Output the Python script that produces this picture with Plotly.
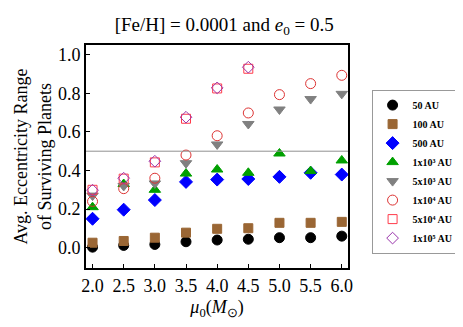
import plotly.graph_objects as go

mu0 = [2.0, 2.5, 3.0, 3.5, 4.0, 4.5, 5.0, 5.5, 6.0]
mu0_short = [2.0, 2.5, 3.0, 3.5, 4.0, 4.5]

au50 = [0.003, 0.012, 0.017, 0.031, 0.040, 0.044, 0.052, 0.052, 0.060]
au100 = [0.026, 0.035, 0.052, 0.078, 0.098, 0.101, 0.129, 0.129, 0.134]
au500 = [0.150, 0.197, 0.247, 0.341, 0.353, 0.356, 0.367, 0.388, 0.379]
au1e3 = [0.210, 0.330, 0.300, 0.384, 0.405, 0.388, 0.488, 0.397, 0.452]
au5e3 = [0.270, 0.320, 0.333, 0.438, 0.535, 0.641, 0.716, 0.770, 0.797]
au1e4 = [0.240, 0.306, 0.360, 0.480, 0.580, 0.698, 0.793, 0.850, 0.893]
au5e4 = [0.300, 0.358, 0.442, 0.668, 0.825, 0.927]
au1e5 = [0.298, 0.360, 0.448, 0.676, 0.828, 0.935]

ref_line = 0.5

series = [
    ("50 AU", mu0, au50, "circle", "black", 10),
    ("100 AU", mu0, au100, "square", "#9A6634", 9),
    ("500 AU", mu0, au500, "diamond", "#0000FF", 10),
    ("1x10³ AU", mu0, au1e3, "triangle-up", "#00A000", 10),
    ("5x10³ AU", mu0, au5e3, "triangle-down", "#808080", 10),
    ("1x10⁴ AU", mu0, au1e4, "circle-open", "#DD3333", 10),
    ("5x10⁴ AU", mu0_short, au5e4, "square-open", "#FF3B4B", 9),
    ("1x10⁵ AU", mu0_short, au1e5, "diamond-open", "#9933AA", 9),
]

fig = go.Figure()
for name, xs, ys, sym, col, sz in series:
    fig.add_trace(go.Scatter(
        x=xs, y=ys, mode="markers", name=name,
        marker=dict(symbol=sym, color=col, size=sz, line=dict(color=col, width=1)),
    ))

fig.add_shape(type="line", xref="paper", x0=0, x1=1, yref="y", y0=ref_line, y1=ref_line,
              line=dict(color="#909090", width=1))

font = "Liberation Serif"
fig.update_layout(
    width=463, height=327,
    margin=dict(l=71, r=100, t=37, b=67),
    paper_bgcolor="white", plot_bgcolor="white",
    font=dict(family=font, color="black", size=14),
    title=dict(text="[Fe/H] = 0.0001 and <i>e</i><sub>0</sub> = 0.5",
               x=0.467, xanchor="center", y=0.95, yanchor="middle",
               font=dict(size=19, family=font)),
    showlegend=True,
    legend=dict(x=1.09, xanchor="left", y=0.8, yanchor="top",
                bgcolor="white", bordercolor="#999999", borderwidth=1,
                font=dict(size=10, family=font, weight="bold"),
                tracegroupgap=0),
    xaxis=dict(range=[1.895, 6.1], tickvals=mu0, ticktext=[f"{v:.1f}" for v in mu0],
               ticks="inside", ticklen=4, tickcolor="black",
               showline=True, linecolor="black", linewidth=2, mirror=True,
               showgrid=False, zeroline=False,
               tickfont=dict(size=18, family=font),
               title=dict(text="<i>μ</i><sub>0</sub>(<i>M</i><sub>⊙</sub>)",
                          font=dict(size=18, family=font), standoff=6)),
    yaxis=dict(range=[-0.105, 1.05], tickvals=[0, 0.2, 0.4, 0.6, 0.8, 1.0],
               ticktext=["0.0", "0.2", "0.4", "0.6", "0.8", "1.0"],
               ticks="inside", ticklen=4, tickcolor="black",
               showline=True, linecolor="black", linewidth=2, mirror=True,
               showgrid=False, zeroline=False,
               tickfont=dict(size=18, family=font),
               title=dict(text="Avg. Eccentricity Range<br>of Surviving Planets",
                          font=dict(size=18, family=font), standoff=2)),
)

fig.write_html("out.html")
